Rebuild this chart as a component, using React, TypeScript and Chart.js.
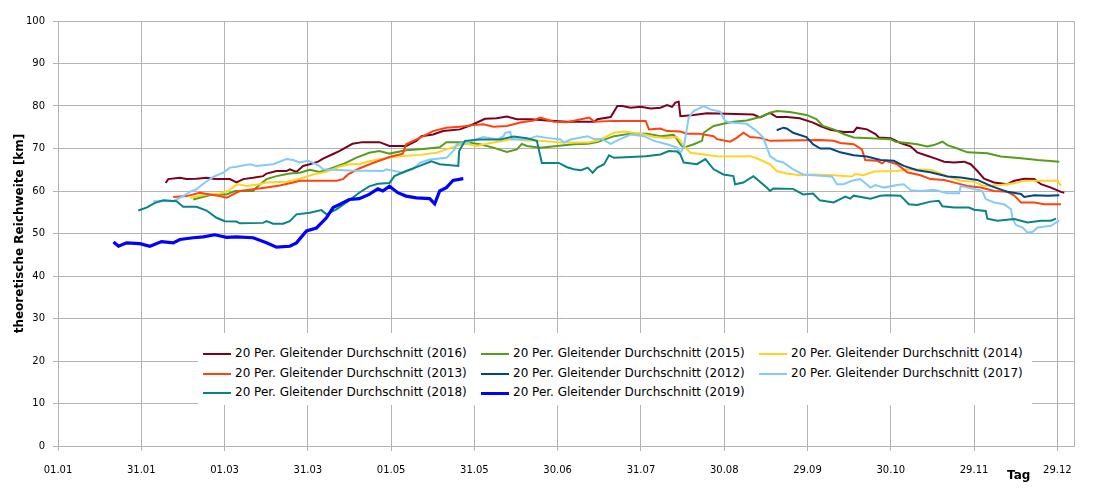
import { useEffect, useRef } from 'react';
import { Chart, registerables } from 'chart.js';

Chart.register(...registerables);

// x axis: day of year, ticks every 30 days
const tickDays = [0, 30, 60, 90, 120, 150, 180, 210, 240, 270, 300, 330, 360];
const tickLabels = ['01.01', '31.01', '01.03', '31.03', '01.05', '31.05', '30.06', '31.07', '30.08', '29.09', '30.10', '29.11', '29.12'];

const years = ['2016', '2015', '2014', '2013', '2012', '2017', '2018', '2019'];
const colors = ['#7E0021', '#579D1C', '#FFD320', '#FF420E', '#004586', '#83CAFF', '#088484', '#0000FF'];

// [day, km]
const km2016: [number, number][] = [
    [38.8, 61.9], [39.7, 62.8], [43.9, 63.1], [46.3, 62.8], [49.9, 62.9], [53.5, 63.1], [56.5, 62.8], [61.9, 62.8],
    [64.3, 62.0], [66.7, 62.8], [70.3, 63.1], [73.9, 63.5], [75.1, 64.1], [78.7, 64.7], [82.3, 64.7], [83.5, 65.1],
    [85.9, 64.5], [88.3, 65.9], [90.7, 66.3], [93.7, 66.9], [95.5, 67.6], [99.1, 68.7], [101.3, 69.4], [106.1, 71.1],
    [109.7, 71.5], [115.8, 71.5], [119.4, 70.6], [125.4, 70.6], [129.1, 71.8], [130.9, 72.9], [135.1, 73.3], [138.7, 74.1],
    [144.8, 74.5], [149.6, 75.7], [153.8, 77.0], [158, 77.1], [161.7, 77.5], [165.3, 76.9], [170.1, 76.9], [176.2, 76.6],
    [183.4, 76.3], [193.2, 76.3], [194.3, 76.9], [199.1, 77.4], [201.5, 80.0], [203.3, 80.0], [206.3, 79.6], [209.9, 79.8],
    [213.5, 79.4], [217, 79.6], [219.4, 80.2], [221.2, 79.8], [222.4, 80.8], [223.6, 81.0], [224.2, 77.6], [229, 77.9],
    [233.8, 78.3], [240.9, 78.2], [250.5, 78.0], [252.9, 77.3], [256.5, 78.4], [258.9, 77.4], [262.5, 77.4], [267.2, 77.1],
    [272, 76.1], [274.6, 75.3], [278.2, 74.4], [283, 73.9], [286.6, 73.9], [287.8, 74.9], [291.4, 74.5], [294.5, 73.4],
    [295.7, 72.6], [299.9, 72.4], [303.5, 71.3], [307.1, 70.5], [309.5, 69.1], [313.1, 68.3], [316.7, 67.5], [319.2, 66.9],
    [322.8, 66.7], [326.4, 66.9], [328.8, 66.3], [331.2, 64.7], [333.6, 62.9], [337.2, 62.0], [342, 61.6], [344.5, 62.4],
    [348.1, 62.9], [351.7, 62.8], [354.1, 61.6], [357.7, 60.8], [361.3, 59.8], [362.5, 59.6],
];

const km2015: [number, number][] = [
    [48.7, 58.0], [51.1, 58.4], [55.9, 59.2], [60.7, 59.2], [63.7, 60.0], [70.3, 60.0], [71.5, 60.8], [75.1, 62.8],
    [78.7, 63.5], [83.5, 64.1], [87.1, 64.3], [90.7, 65.0], [94.3, 64.5], [99.1, 65.5], [103.7, 66.6], [107.3, 67.8],
    [112.1, 69.0], [115.8, 69.4], [119.4, 68.8], [125.4, 69.6], [131.5, 69.9], [137.5, 70.3], [139.9, 71.5], [147.2, 71.5],
    [152, 71.0], [156.8, 70.2], [161.7, 69.2], [165.3, 69.8], [167.1, 71.1], [168.9, 70.6], [173.7, 70.2], [179.8, 70.6],
    [185.8, 71.0], [191, 71.1], [194.3, 71.5], [200.3, 72.9], [206.3, 73.5], [212.3, 73.5], [217, 72.9], [221.8, 73.2],
    [223, 72.2], [224.2, 71.0], [225.4, 70.2], [229, 71.0], [232, 71.8], [232.6, 73.7], [236.2, 75.3], [239.7, 75.8],
    [243.3, 76.3], [248.1, 76.6], [252.9, 77.4], [256.5, 78.4], [258.9, 78.8], [263.6, 78.6], [269.6, 77.9], [273.2, 76.9],
    [275.6, 75.3], [279.4, 74.5], [283, 73.4], [286.6, 72.6], [292.7, 72.4], [299.9, 72.2], [301.7, 71.6], [305.9, 71.3],
    [309.5, 71.0], [313.1, 70.5], [315.5, 70.8], [318.6, 71.6], [320.4, 70.8], [324, 70.0], [327.6, 69.1], [334.8, 68.9],
    [339.6, 68.1], [346.9, 67.7], [352.9, 67.3], [360.7, 66.9],
];

const km2014: [number, number][] = [
    [47.5, 58.4], [53.5, 59.2], [58.3, 59.4], [61.3, 60.0], [63.7, 61.2], [64.9, 61.6], [67.9, 61.2], [72.7, 61.6],
    [75.1, 62.0], [82.3, 62.2], [87.1, 62.9], [91.9, 63.9], [96.7, 64.5], [101.3, 65.7], [104.9, 66.3], [108.5, 66.3],
    [112.1, 67.0], [117, 67.6], [123, 68.2], [130.3, 68.5], [136.3, 69.0], [139.9, 69.8], [143.6, 70.6], [147.2, 71.1],
    [150.8, 70.6], [154.4, 71.1], [160.5, 71.8], [164.1, 72.3], [168.9, 71.9], [173.7, 71.8], [181, 71.4], [191, 71.4],
    [194.3, 71.8], [197.9, 72.9], [200.3, 73.7], [203.9, 74.0], [209.9, 73.5], [214.7, 72.7], [219.4, 72.5], [223, 72.7],
    [224.2, 71.8], [225.4, 70.6], [227.8, 69.0], [232.6, 68.6], [237.4, 68.2], [244.5, 68.1], [249.3, 68.2], [251.7, 67.7],
    [256.5, 66.3], [258.9, 64.7], [262.5, 64.1], [267.2, 63.7], [272, 63.9], [279.4, 63.7], [286, 63.4], [287.2, 64.0],
    [290.2, 63.7], [293.9, 64.6], [302.3, 64.7], [305.9, 65.1], [314.3, 65.0], [316.7, 64.4], [321.6, 63.2], [325.2, 62.4],
    [330, 62.2], [333.6, 61.2], [339.6, 61.4], [344.5, 61.8], [348.1, 62.4], [360.1, 62.4], [361.3, 61.2],
];

const km2013: [number, number][] = [
    [41.5, 58.6], [46.3, 58.8], [51.1, 59.6], [54.7, 59.2], [58.3, 58.8], [60.7, 58.4], [63.1, 59.2], [65.5, 60.0],
    [70.3, 60.4], [75.1, 60.8], [79.9, 61.3], [84.7, 62.0], [87.1, 62.4], [100.3, 62.4], [102.7, 62.8], [104.5, 63.9],
    [108.5, 65.3], [113.4, 66.6], [117, 67.4], [119.4, 68.0], [124.2, 68.8], [125.4, 71.0], [130.3, 72.5], [135.1, 74.1],
    [139.9, 74.9], [144.8, 75.1], [149.6, 75.5], [153.2, 75.7], [156.8, 75.1], [161.7, 75.3], [166.5, 76.1], [171.3, 76.6],
    [173.7, 77.3], [178.6, 76.3], [183.4, 76.2], [188.4, 76.9], [191.4, 77.3], [193.2, 76.3], [200.3, 76.5], [211.7, 76.5],
    [212.9, 74.5], [217, 74.7], [219.4, 74.1], [224.2, 74.0], [226.6, 73.5], [230.8, 73.5], [236.2, 72.9], [237.4, 72.2],
    [242.1, 71.6], [244.5, 72.5], [246.9, 73.7], [249.3, 72.7], [252.9, 72.5], [256.5, 71.8], [262.5, 71.9], [274.6, 72.0],
    [279.4, 71.8], [281.8, 71.3], [286.6, 71.0], [289.6, 69.8], [290.8, 67.3], [295.1, 67.1], [296.9, 66.5], [298.1, 67.1],
    [302.3, 66.3], [305.9, 64.4], [310.7, 63.7], [314.3, 62.8], [319.2, 62.6], [324, 61.8], [327.6, 61.2], [332.4, 60.8],
    [337.2, 60.0], [342, 59.8], [344.5, 58.9], [346.9, 57.3], [351.7, 57.3], [355.3, 56.9], [361.3, 56.9],
];

const km2012: [number, number][] = [
    [258.9, 74.3], [261.3, 74.9], [262.5, 74.7], [264.8, 73.7], [269.6, 72.7], [272, 71.0], [274.6, 70.0], [278.2, 70.0],
    [281.8, 69.1], [286.6, 68.4], [291.4, 68.1], [296.3, 67.3], [301.1, 67.1], [304.7, 65.9], [309.5, 64.9], [314.3, 64.4],
    [320.4, 63.4], [325.2, 63.2], [331.2, 62.6], [336, 61.2], [342, 59.8], [346.9, 59.3], [348.1, 58.6], [351.7, 59.0],
    [356.5, 58.9], [360.7, 59.0],
];

const km2017: [number, number][] = [
    [34.3, 57.6], [41.5, 57.6], [45.1, 58.8], [47.5, 59.8], [49.9, 60.4], [52.3, 61.7], [55.9, 63.3], [59.5, 64.3],
    [61.9, 65.5], [64.3, 65.7], [69.1, 66.3], [71.5, 65.9], [77.5, 66.3], [82.3, 67.5], [84.7, 67.3], [87.1, 66.7],
    [90.1, 67.1], [93.7, 66.1], [95.5, 65.1], [99.1, 65.0], [105, 64.8], [117, 64.7], [118.2, 65.1], [124.2, 64.3],
    [127.8, 65.1], [130.3, 66.6], [133.9, 67.4], [139.9, 67.8], [142.9, 69.8], [143.6, 71.0], [147.2, 71.4], [153.2, 72.7],
    [158.1, 72.1], [160.5, 72.9], [161.1, 73.7], [162.9, 73.9], [163.5, 72.1], [168.9, 72.1], [172.5, 72.9], [176.2, 72.5],
    [181, 72.1], [182.2, 71.4], [184.6, 72.1], [188.4, 72.6], [190.8, 72.9], [193.2, 72.2], [195.5, 72.3], [199.1, 71.1],
    [201.5, 71.9], [206.3, 73.3], [211.1, 72.9], [214.7, 71.8], [219.4, 71.0], [223, 70.2], [224.2, 69.0], [225.4, 70.2],
    [226.6, 74.9], [227.2, 77.3], [229, 78.8], [232.6, 80.0], [235, 79.2], [238.6, 78.7], [240.3, 76.5], [242.1, 76.1],
    [248.1, 75.8], [251.7, 74.1], [254.1, 72.5], [256.5, 68.2], [258.9, 67.1], [261.3, 66.7], [264.8, 65.1], [268.4, 63.9],
    [274.6, 63.6], [278.8, 63.4], [280.6, 61.6], [283, 61.6], [286, 62.4], [289, 62.8], [292.7, 60.8], [294.5, 61.4],
    [297.5, 60.8], [302.3, 61.4], [304.7, 61.6], [307.1, 60.2], [310.7, 60.0], [315.5, 60.3], [320.4, 59.5], [324.6, 59.5],
    [325.2, 61.2], [327.6, 60.8], [331.2, 60.3], [333, 60.0], [334.2, 58.1], [337.2, 57.3], [340.8, 56.9], [343.3, 55.7],
    [343.9, 53.4], [345.1, 52.0], [347.5, 51.4], [349.3, 50.2], [351.1, 50.4], [352.9, 51.4], [357.7, 51.8], [360.7, 53.1],
];

const km2018: [number, number][] = [
    [28.9, 55.4], [31.9, 56.1], [34.9, 57.2], [37.9, 57.8], [42.7, 57.6], [45.1, 56.3], [49.9, 56.3], [53.5, 55.4],
    [57.1, 53.7], [60.1, 52.9], [64.3, 52.8], [65.5, 52.4], [73.9, 52.5], [75.1, 52.9], [77.5, 52.3], [81.1, 52.3],
    [83.5, 52.9], [85.9, 54.5], [90.7, 54.9], [94.9, 55.5], [96.7, 54.5], [100.3, 55.7], [104.9, 57.8], [108.5, 59.6],
    [112.1, 61.1], [115.2, 61.7], [119.4, 61.9], [121.2, 63.5], [125.4, 64.7], [130.3, 65.9], [134.5, 67.0], [137.5, 66.3],
    [144.2, 65.9], [144.5, 69.4], [146.6, 71.8], [152, 72.1], [159.3, 72.1], [164.1, 72.8], [168.9, 72.4], [172.5, 71.8],
    [174.3, 66.6], [180.4, 66.6], [183.4, 65.6], [185.8, 65.1], [188.4, 64.9], [190.8, 65.5], [192.6, 64.3], [194.3, 65.5],
    [196.7, 66.3], [198.5, 68.4], [200.3, 67.8], [206.3, 68.0], [211.7, 68.2], [217, 68.6], [220, 69.4], [223, 69.3],
    [224.2, 68.6], [225.4, 66.7], [230.2, 66.3], [233.2, 67.5], [236.2, 65.1], [239.7, 63.9], [243.3, 63.5], [243.9, 61.6],
    [246.9, 62.0], [250.5, 63.5], [255.3, 60.8], [256.5, 60.0], [257.7, 60.6], [264.8, 60.5], [268.4, 59.2], [272, 59.4],
    [274.4, 57.8], [279.4, 57.3], [281.8, 58.1], [283.6, 58.7], [285.4, 58.2], [286.6, 58.9], [292.7, 58.2], [296.3, 58.9],
    [298.7, 59.0], [303.5, 58.9], [306.5, 56.9], [309.5, 56.7], [314.3, 57.5], [317.3, 57.7], [318.6, 56.4], [322.8, 56.1],
    [328.2, 56.1], [330, 55.6], [334.2, 55.3], [334.8, 53.5], [338.4, 53.0], [344.5, 53.4], [349.3, 52.6], [354.1, 53.0],
    [357.7, 53.0], [359.5, 53.5],
];

const km2019: [number, number][] = [
    [20, 48.0], [21.8, 47.0], [24.7, 47.8], [29.5, 47.6], [33.1, 47.0], [37.3, 48.1], [41.5, 47.8], [43.9, 48.6],
    [48.7, 49.0], [52.3, 49.2], [56.5, 49.7], [60.7, 49.1], [64.3, 49.2], [70.3, 49.0], [75.1, 47.8], [78.7, 46.8],
    [83.5, 47.0], [85.9, 47.8], [89.5, 50.6], [93.1, 51.3], [96.7, 53.7], [99.1, 56.1], [101.3, 56.8], [104.9, 58.0],
    [108.5, 58.2], [112.1, 59.2], [115.2, 60.5], [117, 60.0], [119.4, 61.1], [122.4, 59.6], [125.4, 58.8], [129.1, 58.4],
    [133.9, 58.2], [135.7, 57.0], [137.5, 60.0], [139.9, 60.8], [142.3, 62.5], [146, 62.9],
];

const seriesData = [km2016, km2015, km2014, km2013, km2012, km2017, km2018, km2019];

const GRID = '#b3b3b3';
const FONT = 'DejaVu Sans';

// thin frame around the plot area (right edge is not covered by any axis)
const plotFrame = {
    id: 'plotFrame',
    beforeDatasetsDraw(chart: Chart) {
        const { ctx, chartArea: a } = chart;
        ctx.save();
        ctx.strokeStyle = GRID;
        ctx.lineWidth = 1;
        ctx.strokeRect(Math.round(a.left) + 0.5, Math.round(a.top) + 0.5, Math.round(a.right - a.left), Math.round(a.bottom - a.top));
        ctx.restore();
    }
};

export default function App() {
    const canvasRef = useRef<HTMLCanvasElement>(null);

    useEffect(() => {
        if (!canvasRef.current) return;
        const chart = new Chart(canvasRef.current, {
            type: 'line',
            data: {
                datasets: years.map((year, i) => ({
                    label: `20 Per. Gleitender Durchschnitt (${year})`,
                    data: seriesData[i].map(([x, y]) => ({ x, y })),
                    borderColor: colors[i],
                    backgroundColor: colors[i],
                    borderWidth: year === '2019' ? 3.2 : 2,
                    pointRadius: 0,
                    tension: 0,
                    order: years.length - i,
                }))
            },
            options: {
                animation: false,
                responsive: false,
                layout: { padding: { left: 0, top: 21, right: 22, bottom: 0 } },
                plugins: {
                    legend: { display: false },
                    tooltip: { enabled: false }
                },
                scales: {
                    x: {
                        type: 'linear',
                        min: 0,
                        max: 366,
                        afterBuildTicks: (scale) => { scale.ticks = tickDays.map(v => ({ value: v })); },
                        afterFit: (scale) => { scale.height = 50; },
                        ticks: {
                            callback: (v) => tickLabels[tickDays.indexOf(Number(v))] ?? '',
                            color: '#000',
                            font: { family: FONT, size: 10 },
                            padding: 13,
                            maxRotation: 0,
                            autoSkip: false,
                        },
                        grid: { color: GRID, tickLength: 5 },
                        border: { color: GRID },
                    },
                    y: {
                        min: 0,
                        max: 100,
                        afterFit: (scale) => { scale.width = 58; },
                        ticks: {
                            stepSize: 10,
                            color: '#000',
                            font: { family: FONT, size: 10 },
                            padding: 8,
                        },
                        grid: { color: GRID, tickLength: 5 },
                        border: { color: GRID },
                        title: {
                            display: true,
                            text: 'theoretische Reichweite [km]',
                            color: '#000',
                            font: { family: FONT, size: 12, weight: 'bold' },
                            padding: { top: 13, bottom: 0 },
                        },
                    },
                },
            },
            plugins: [plotFrame],
        });
        return () => chart.destroy();
    }, []);

    return (
        <div style={{ position: 'absolute', left: 0, top: 0, width: 1096, height: 496, background: '#fff', fontFamily: FONT }}>
            <canvas ref={canvasRef} width={1096} height={496} style={{ display: 'block' }}></canvas>

            {/* legend sits inside the plot area on a white box */}
            <div style={{ position: 'absolute', left: 198, top: 333, width: 834, height: 72, background: '#fff' }}>
                <div style={{ position: 'absolute', left: 5, top: 11, display: 'grid', gridTemplateColumns: '278px 278px auto', gridAutoRows: '19.7px' }}>
                    {years.map((year, i) => (
                        <div key={year} style={{ display: 'flex', alignItems: 'center', whiteSpace: 'nowrap' }}>
                            <span style={{ display: 'inline-block', width: 28, height: year === '2019' ? 3 : 2, background: colors[i], marginRight: 4 }}></span>
                            <span style={{ fontSize: 12, color: '#000', lineHeight: '19.7px' }}>20 Per. Gleitender Durchschnitt ({year})</span>
                        </div>
                    ))}
                </div>
            </div>

            <div style={{ position: 'absolute', left: 1007, top: 468, fontSize: 12, fontWeight: 'bold', lineHeight: '14px', color: '#000' }}>Tag</div>
        </div>
    );
}
